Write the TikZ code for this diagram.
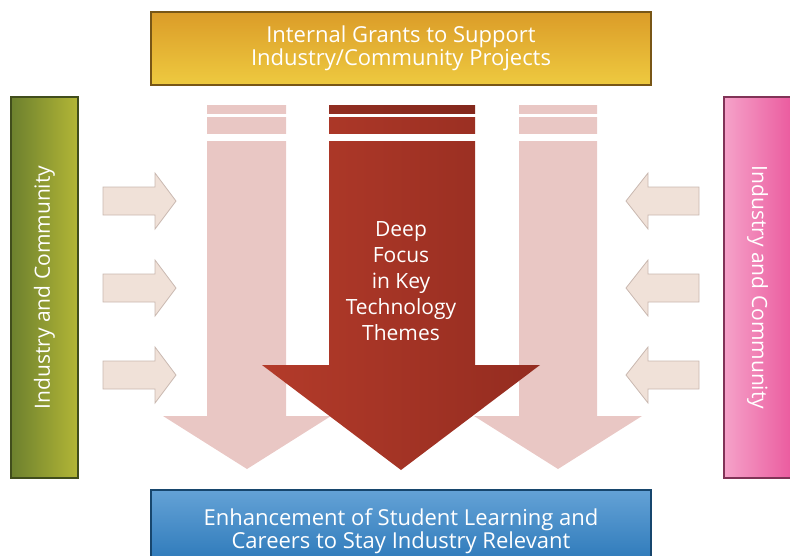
\documentclass[tikz,border=0pt]{standalone}
\usepackage{fontspec}
\setmainfont{Open Sans}
\usetikzlibrary{positioning}
\definecolor{grantTop}{HTML}{DB9C28}
\definecolor{grantBot}{HTML}{EECA40}
\definecolor{learnTop}{HTML}{64A2D6}
\definecolor{learnBot}{HTML}{2674B6}
\definecolor{oliveL}{HTML}{6C802E}
\definecolor{oliveR}{HTML}{B3B636}
\definecolor{pinkL}{HTML}{F5A2C9}
\definecolor{pinkR}{HTML}{EB5C9F}
\definecolor{themeL}{HTML}{B33B2A}
\definecolor{themeM}{HTML}{BA412E}
\definecolor{themeR}{HTML}{942C20}
\definecolor{paleArrow}{HTML}{E9C7C4}
\definecolor{feedFill}{HTML}{F0E1D8}
\definecolor{feedEdge}{HTML}{C9B8B0}
\tikzset{
  every node/.append style={text=white},
  banner/.style={draw=#1, line width=1.4pt, inner sep=0pt, align=center,
    font=\fontsize{22}{21.5}\selectfont},
  sidebar/.style={draw=#1, line width=1.4pt, inner sep=0pt,
    minimum width=67pt, minimum height=381pt},
  sidetext/.style={font=\fontsize{21}{22}\selectfont},
  feed/.style={fill=feedFill, draw=feedEdge, line width=0.8pt, line join=miter},
  pale/.style={fill=paleArrow}
}
\begin{document}
\begin{tikzpicture}[x=1pt, y=-1pt]
\useasboundingbox (0,0) rectangle (790,555);

% background pale arrows
\fill[pale] (207,105) -- (286,105) -- (286,416) -- (331,416) -- (247,469)
  -- (163,416) -- (207,416) -- cycle;
\fill[pale] (519,105) -- (597,105) -- (597,416) -- (642,416) -- (558,469)
  -- (474,416) -- (519,416) -- cycle;

% central arrow
\shade[left color=themeL, middle color=themeM, right color=themeR]
  (329,105) -- (475,105) -- (475,365) -- (540,365) -- (401,470)
  -- (262,365) -- (329,365) -- cycle;
\fill[black, opacity=0.15] (329,105) rectangle (475,114);

% white cuts at the top of the shafts
\foreach \xa/\xb in {207/286, 329/475, 519/597} {
  \fill[white] (\xa-1,114) rectangle (\xb+1,117);
  \fill[white] (\xa-1,134) rectangle (\xb+1,141);
}

\node[align=center, font=\fontsize{21}{26}\selectfont] (theme) at (401,281)
  {Deep\\Focus\\in Key\\Technology\\Themes};

% side arrows
\foreach \y in {201,288,375} {
  \draw[feed] (103,\y-14) -- (155,\y-14) -- (155,\y-28) -- (176,\y)
    -- (155,\y+28) -- (155,\y+14) -- (103,\y+14) -- cycle;
  \draw[feed] (699,\y-14) -- (648,\y-14) -- (648,\y-28) -- (626,\y)
    -- (648,\y+28) -- (648,\y+14) -- (699,\y+14) -- cycle;
}

% top and bottom banners
\node[banner=grantTop!55!black, minimum width=500pt, minimum height=73pt,
  top color=grantTop, bottom color=grantBot] (grants) at (401,48.5)
  {Internal Grants to Support\\Industry/Community Projects};
\node[banner=learnBot!60!black, minimum width=500pt, minimum height=82pt,
  top color=learnTop, bottom color=learnBot] (learning) at (401,531)
  {Enhancement of Student Learning and\\Careers to Stay Industry Relevant};

% side bars
\node[sidebar=oliveL!60!black, left color=oliveL, right color=oliveR]
  (partnerL) at (44.5,287.5) {};
\node[sidetext, rotate=90] (partnerLtext) at (partnerL.center)
  {Industry and Community};
\node[sidebar=pinkR!55!black, left color=pinkL, right color=pinkR]
  (partnerR) at (757.5,287.5) {};
\node[sidetext, rotate=-90] (partnerRtext) at (partnerR.center)
  {Industry and Community};

\end{tikzpicture}
\end{document}
